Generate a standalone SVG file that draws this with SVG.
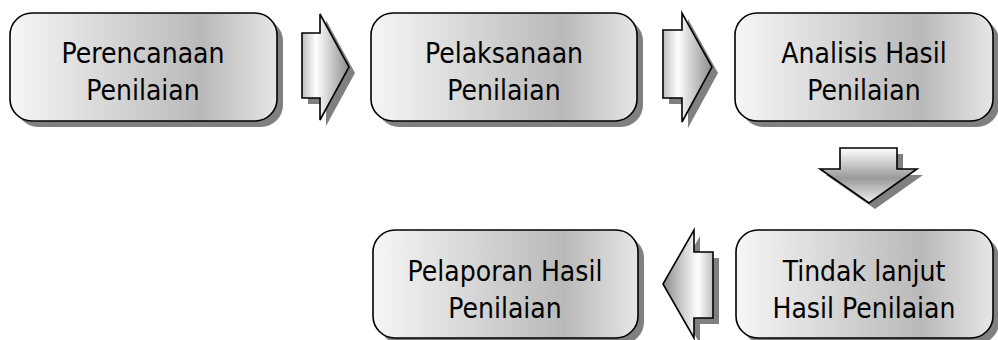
<svg xmlns="http://www.w3.org/2000/svg" width="998" height="340" viewBox="0 0 998 340">
<defs>
<linearGradient id="gBox" x1="0" y1="0" x2="1" y2="0">
<stop offset="0" stop-color="#f6f6f6"/>
<stop offset="0.72" stop-color="#b9b9b9"/>
<stop offset="1" stop-color="#e6e6e6"/>
</linearGradient>
<linearGradient id="gH" x1="0" y1="0" x2="1" y2="0">
<stop offset="0" stop-color="#bdbdbd"/>
<stop offset="0.3" stop-color="#ffffff"/>
<stop offset="1" stop-color="#8c8c8c"/>
</linearGradient>
<linearGradient id="gHL" x1="1" y1="0" x2="0" y2="0">
<stop offset="0" stop-color="#bdbdbd"/>
<stop offset="0.3" stop-color="#ffffff"/>
<stop offset="1" stop-color="#8c8c8c"/>
</linearGradient>
<linearGradient id="gV" x1="0" y1="0" x2="0" y2="1">
<stop offset="0" stop-color="#ffffff"/>
<stop offset="0.55" stop-color="#9a9a9a"/>
<stop offset="1" stop-color="#f0f0f0"/>
</linearGradient>
<style>
.sh{fill:#808080}
.box{fill:url(#gBox);stroke:#000;stroke-width:1.6}
.ar{stroke:#000;stroke-width:1.6;stroke-linejoin:miter}
text{font-family:"DejaVu Sans Condensed","DejaVu Sans",sans-serif;font-size:28px;fill:#000;text-anchor:middle}
</style>
</defs>
<g id="connectors">
<g id="arrow1">
<path class="sh" transform="translate(6,6)" d="M302,33 H320 V14 L349,67 L320,120 V98 H302 Z"/>
<path class="ar" fill="url(#gH)" d="M302,33 H320 V14 L349,67 L320,120 V98 H302 Z"/>
</g>
<g id="arrow2">
<path class="sh" transform="translate(6,6)" d="M663,30 H682 V13 L712,67 L682,122 V98 H663 Z"/>
<path class="ar" fill="url(#gH)" d="M663,30 H682 V13 L712,67 L682,122 V98 H663 Z"/>
</g>
<g id="arrow3">
<path class="sh" transform="translate(6,6)" d="M840,148 H897 V169 H917 L869,203 L820,169 H840 Z"/>
<path class="ar" fill="url(#gV)" d="M840,148 H897 V169 H917 L869,203 L820,169 H840 Z"/>
</g>
<g id="arrow4">
<path class="sh" transform="translate(6,6)" d="M713,252 H694 V230 L663,284 L694,338 V318 H713 Z"/>
<path class="ar" fill="url(#gHL)" d="M713,252 H694 V230 L663,284 L694,338 V318 H713 Z"/>
</g>
</g>
<g id="node1">
<rect class="sh" x="16" y="19" width="267" height="108" rx="22"/>
<rect class="box" x="10" y="13" width="267" height="108" rx="22"/>
<text x="143" y="63">Perencanaan</text>
<text x="143" y="100">Penilaian</text>
</g>
<g id="node2">
<rect class="sh" x="377" y="19" width="266" height="108" rx="22"/>
<rect class="box" x="371" y="13" width="266" height="108" rx="22"/>
<text x="504" y="63">Pelaksanaan</text>
<text x="504" y="100">Penilaian</text>
</g>
<g id="node3">
<rect class="sh" x="741" y="19" width="258" height="108" rx="22"/>
<rect class="box" x="735" y="13" width="258" height="108" rx="22"/>
<text x="864" y="63">Analisis Hasil</text>
<text x="864" y="100">Penilaian</text>
</g>
<g id="node4">
<rect class="sh" x="379" y="236" width="265" height="108" rx="22"/>
<rect class="box" x="373" y="230" width="265" height="108" rx="22"/>
<text x="505" y="281">Pelaporan Hasil</text>
<text x="505" y="318">Penilaian</text>
</g>
<g id="node5">
<rect class="sh" x="742" y="236" width="257" height="108" rx="22"/>
<rect class="box" x="736" y="230" width="257" height="108" rx="22"/>
<text x="864" y="281">Tindak lanjut</text>
<text x="864" y="318">Hasil Penilaian</text>
</g>
</svg>
